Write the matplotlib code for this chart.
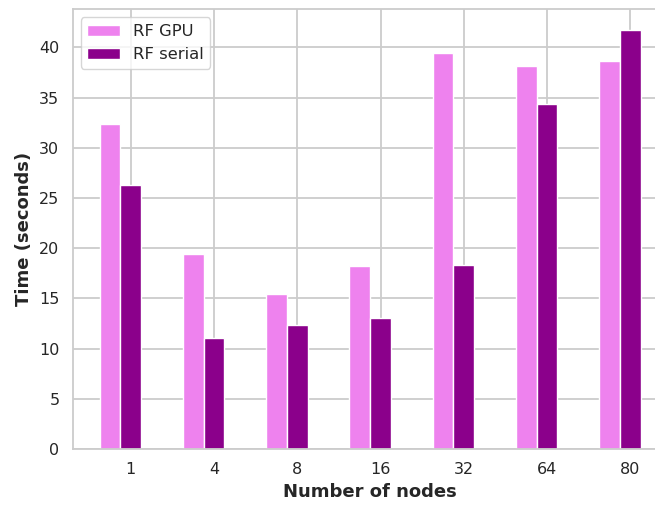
import matplotlib
matplotlib.use("Agg")
import matplotlib.pyplot as plt
import numpy as np
import seaborn as sns

sns.set_theme(style="whitegrid", rc={"grid.linewidth": 1.3, "axes.linewidth": 1.3})

nodes = ["1", "4", "8", "16", "32", "64", "80"]
rf_gpu = [32.4, 19.45, 15.4, 18.2, 39.4, 38.1, 38.6]
rf_serial = [26.3, 11.1, 12.3, 13.0, 18.35, 34.4, 41.7]

fig = plt.figure(figsize=(6.55, 5.05), dpi=100)
ax = fig.add_axes([72.6 / 655, 56 / 505, 595 / 655, 439.7 / 505])

x = np.arange(len(nodes))
width = 0.25
ax.bar(x - width, rf_gpu, width, color="violet", label="RF GPU")
ax.bar(x, rf_serial, width, color="darkmagenta", label="RF serial")

ax.set_xticks(x)
ax.set_xticklabels(nodes)
ax.tick_params(labelsize=11.5)
ax.set_xlabel("Number of nodes", fontweight="bold", fontsize=13)
ax.set_ylabel("Time (seconds)", fontweight="bold", fontsize=13)
ax.legend(loc="upper left", fontsize=11.75)

fig.savefig("out.png", dpi=100)
